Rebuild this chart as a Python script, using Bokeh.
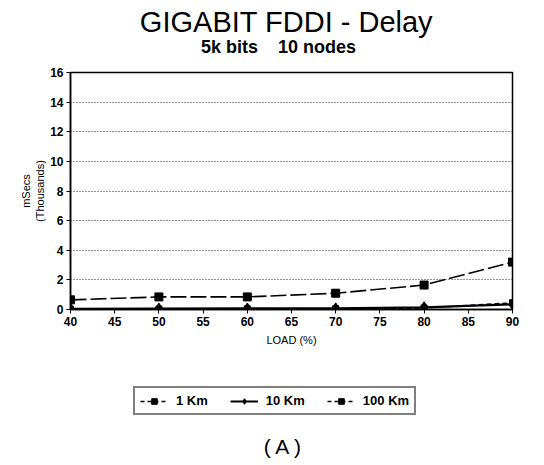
from bokeh.plotting import figure
from bokeh.layouts import column
from bokeh.models import Range1d, Legend, LegendItem, Label, FixedTicker
from bokeh.embed import file_html
from bokeh.resources import INLINE

load = [40, 50, 60, 70, 80, 90]
delay_1km = [0.02, 0.03, 0.04, 0.05, 0.1, 0.45]
delay_10km = [0.05, 0.06, 0.07, 0.08, 0.15, 0.35]
delay_100km = [0.65, 0.85, 0.85, 1.1, 1.65, 3.2]
x_ticks = [40, 45, 50, 55, 60, 65, 70, 75, 80, 85, 90]
y_ticks = [0, 2, 4, 6, 8, 10, 12, 14, 16]
series_names = ["1 Km", "10 Km", "100 Km"]

FONT = "Liberation Sans"
W = 528
BL, BR = 70, 16  # left / right borders shared by all strips


def strip(h):
    f = figure(width=W, height=h, output_backend="svg", toolbar_location=None,
               x_range=Range1d(BL, W - BR), y_range=Range1d(h, 0),
               x_axis_type=None, y_axis_type=None)
    f.min_border_left = BL
    f.min_border_right = BR
    f.min_border_top = 0
    f.min_border_bottom = 0
    f.outline_line_color = None
    return f


# ---------- title strip ----------
top = strip(60)
top.add_layout(Label(x=286, y=21, text="GIGABIT FDDI - Delay", text_font=FONT,
                     text_font_size="29px", text_align="center",
                     text_baseline="middle", text_color="black"))
top.add_layout(Label(x=278, y=46, text="5k bits\u00a0\u00a0\u00a0\u00a010 nodes", text_font=FONT,
                     text_font_size="18px", text_font_style="bold", text_align="center",
                     text_baseline="middle", text_color="black"))

# ---------- main plot ----------
p = figure(width=W, height=300, output_backend="svg", toolbar_location=None,
           x_range=Range1d(40, 90), y_range=Range1d(0, 16))
p.min_border_left = BL
p.min_border_right = BR
p.min_border_top = 12
p.min_border_bottom = 51
p.outline_line_color = "black"
p.outline_line_width = 1.5

p.xaxis.ticker = FixedTicker(ticks=x_ticks)
p.yaxis.ticker = FixedTicker(ticks=y_ticks)
for ax in (p.xaxis, p.yaxis):
    ax.axis_line_color = "black"
    ax.axis_line_width = 1.5
    ax.major_tick_line_color = "black"
    ax.major_tick_in = 0
    ax.major_tick_out = 4
    ax.minor_tick_line_color = None
    ax.major_label_text_font = FONT
    ax.major_label_text_font_style = "bold"
    ax.major_label_text_font_size = "12px"
    ax.major_label_text_color = "black"
    ax.major_label_standoff = 3
    ax.axis_label_text_font = FONT
    ax.axis_label_text_font_style = "normal"
    ax.axis_label_text_color = "black"

p.xaxis.axis_label = "LOAD (%)"
p.xaxis.axis_label_standoff = 5
p.xaxis.axis_label_text_font_size = "11px"
p.yaxis.axis_label = "mSecs\n(Thousands)"
p.yaxis.axis_label_standoff = 1
p.yaxis.axis_label_text_font_size = "11px"
p.yaxis.axis_label_text_align = "center"

p.xgrid.grid_line_color = None
p.ygrid.grid_line_color = "black"
p.ygrid.grid_line_dash = "1 2"
p.ygrid.grid_line_alpha = 0.85
p.ygrid.grid_line_width = 1

p.line(load, delay_1km, line_color="black", line_width=1.5, line_dash="5 3")
p.scatter(load, delay_1km, marker="square", size=6, color="black")
p.line(load, delay_10km, line_color="black", line_width=2.2)
p.scatter(load, delay_10km, marker="diamond", size=11, color="black")
p.line(load, delay_100km, line_color="black", line_width=1.6, line_dash="16 4")
p.scatter(load, delay_100km, marker="square", size=8, color="black")

# ---------- legend strip ----------
bot = strip(100)
# legend-only renderers (hidden in this strip, shown as legend keys)
k1 = bot.line(load, delay_1km, line_color="black", line_width=1.5, line_dash="4 3", visible=False)
s1 = bot.scatter(load, delay_1km, marker="square", size=7, color="black", visible=False)
k10 = bot.line(load, delay_10km, line_color="black", line_width=2, visible=False)
s10 = bot.scatter(load, delay_10km, marker="diamond", size=8, color="black", visible=False)
k100 = bot.line(load, delay_100km, line_color="black", line_width=1.5, line_dash="4 3", visible=False)
s100 = bot.scatter(load, delay_100km, marker="square", size=5, color="black", visible=False)

legend = Legend(items=[
    LegendItem(label=series_names[0], renderers=[k1, s1]),
    LegendItem(label=series_names[1], renderers=[k10, s10]),
    LegendItem(label=series_names[2], renderers=[k100, s100]),
], location=(63, 45), orientation="horizontal")
legend.label_text_font = FONT
legend.label_text_font_size = "13px"
legend.label_text_font_style = "bold"
legend.label_text_color = "black"
legend.border_line_color = "black"
legend.border_line_width = 2
legend.background_fill_alpha = 1
legend.padding = 5
legend.margin = 0
legend.spacing = 22
legend.glyph_width = 28
legend.glyph_height = 14
legend.label_standoff = 8
bot.add_layout(legend, "center")

bot.add_layout(Label(x=283, y=86, text="( A )", text_font=FONT, text_font_size="21px",
                     text_align="center", text_baseline="middle", text_color="black"))

layout = column(top, p, bot, spacing=0)
open("out.html", "w").write(file_html(layout, INLINE))
